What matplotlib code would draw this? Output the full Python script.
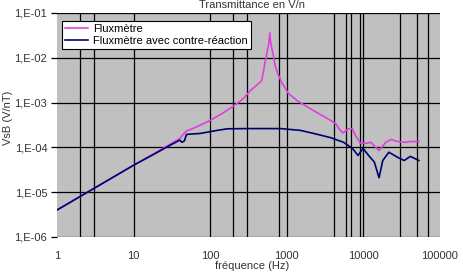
import matplotlib
matplotlib.use("Agg")
import matplotlib.pyplot as plt

plt.rcParams['font.family'] = ['Liberation Sans', 'DejaVu Sans']

# Fluxmetre (sans contre-reaction)
freq_flux = [1, 2, 5, 10, 20, 30, 40, 45, 50, 55, 70, 100, 150, 190, 250, 280,
             334, 400, 470, 540, 580, 600, 620, 670, 700, 760, 860, 1050, 1370,
             2240, 3400, 4360, 4800, 5400, 6400, 7200, 7800, 9100, 10700,
             12500, 16000, 19600, 23000, 28000, 36000, 41000, 53000]
vsb_flux = [4.0e-6, 8.0e-6, 2.0e-5, 4.0e-5, 7.9e-5, 1.18e-4, 1.58e-4, 2.0e-4,
            2.4e-4, 2.5e-4, 3.0e-4, 4.0e-4, 6.0e-4, 7.8e-4, 1.1e-3, 1.3e-3,
            1.85e-3, 2.4e-3, 3.1e-3, 1.1e-2, 2.0e-2, 3.6e-2, 2.0e-2, 1.1e-2,
            7.0e-3, 4.5e-3, 2.8e-3, 1.6e-3, 1.1e-3, 6.6e-4, 4.4e-4, 3.4e-4,
            2.6e-4, 2.1e-4, 2.6e-4, 2.6e-4, 1.9e-4, 1.25e-4, 1.23e-4, 1.3e-4,
            8.5e-5, 1.3e-4, 1.5e-4, 1.35e-4, 1.3e-4, 1.35e-4, 1.35e-4]

# Fluxmetre avec contre-reaction
freq_cr = [1, 2, 5, 10, 20, 30, 40, 43, 46, 49, 74, 124, 168, 300, 610, 830,
           1500, 2240, 3700, 5500, 7200, 8500, 9900, 11700, 13900, 16000,
           17900, 21500, 28000, 34000, 41000, 53000]
vsb_cr = [4.0e-6, 8.0e-6, 2.0e-5, 4.0e-5, 7.6e-5, 1.12e-4, 1.45e-4, 1.3e-4,
          1.4e-4, 1.95e-4, 2.05e-4, 2.4e-4, 2.6e-4, 2.63e-4, 2.63e-4, 2.63e-4,
          2.4e-4, 2.05e-4, 1.66e-4, 1.3e-4, 9.5e-5, 6.6e-5, 9.5e-5, 6.6e-5,
          4.7e-5, 2.1e-5, 5.1e-5, 7.8e-5, 6.0e-5, 5.1e-5, 6.3e-5, 5.1e-5]

# lignes verticales de la grille
vlines = [2, 3, 10, 100, 200, 300, 800, 1000, 4100, 6000, 6800, 9000, 10000,
          30000, 50000, 70000]
ytick_vals = [1e-6, 1e-5, 1e-4, 1e-3, 1e-2, 1e-1]
ytick_labels = ["1,E-06", "1,E-05", "1,E-04", "1,E-03", "1,E-02", "1,E-01"]
xtick_vals = [1, 10, 100, 1000, 10000, 100000]
xtick_labels = ["1", "10", "100", "1000", "10000", "100000"]

fig = plt.figure(figsize=(4.63, 2.74), dpi=100)
ax = fig.add_axes([57 / 463, 1 - 237 / 274, 383 / 463, 224 / 274])
ax.set_facecolor('#c0c0c0')
ax.set_xscale('log')
ax.set_yscale('log')
ax.set_xlim(1, 100000)
ax.set_ylim(1e-6, 1e-1)

for v in vlines:
    ax.axvline(v, color='black', lw=0.9, zorder=1)
for v in ytick_vals:
    ax.axhline(v, color='black', lw=0.9, zorder=1)

ax.plot(freq_flux, vsb_flux, color='#e040e0', lw=1.2, label='Fluxmètre', zorder=3)
ax.plot(freq_cr, vsb_cr, color='#000070', lw=1.2,
        label='Fluxmètre avec contre-réaction', zorder=3)

for s in ax.spines.values():
    s.set_visible(False)

ax.set_yticks(ytick_vals)
ax.set_yticklabels(ytick_labels)
ax.set_xticks(xtick_vals)
ax.set_xticklabels(xtick_labels)
ax.minorticks_off()
ax.tick_params(axis='y', length=4, width=0.9, color='black', pad=3,
               labelsize=8, labelcolor='#333333')
ax.tick_params(axis='x', length=0, pad=10, labelsize=8, labelcolor='#333333')

leg = ax.legend(loc='upper left', bbox_to_anchor=(0.013, 0.965), fontsize=8,
                frameon=True, fancybox=False, framealpha=1, edgecolor='black',
                handlelength=2.0, borderpad=0.3, labelspacing=0.15,
                handletextpad=0.5, borderaxespad=0)
leg.get_frame().set_linewidth(0.8)

fig.text(0.545, 1 - 5 / 274, "Transmittance en V/n", ha='center', va='center',
         fontsize=8, color='#333333')
fig.text(0.545, 1 - 266 / 274, "fréquence (Hz)", ha='center', va='center',
         fontsize=8, color='#333333')
fig.text(8 / 463, 1 - 118 / 274, "VsB (V/nT)", ha='center', va='center',
         rotation=90, fontsize=8, color='#333333')

fig.savefig("out.png", dpi=100)
